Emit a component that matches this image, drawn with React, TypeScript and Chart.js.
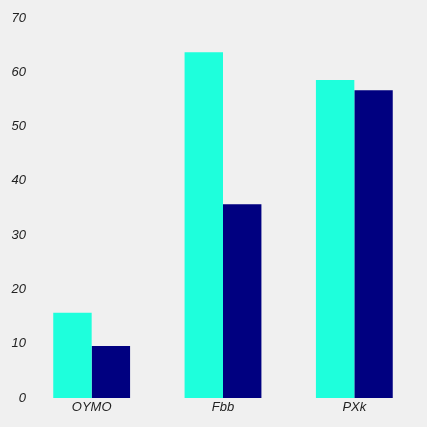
import React, { useEffect, useRef } from 'react';
import Chart from 'chart.js/auto';

const categories = ['OYMO', 'Fbb', 'PXk'];
const seriesA = [15.7, 63.7, 58.6];
const seriesB = [9.6, 35.7, 56.7];
const yTicks = [0, 10, 20, 30, 40, 50, 60, 70];

const App: React.FC = () => {
  const canvasRef = useRef<HTMLCanvasElement>(null);

  useEffect(() => {
    document.body.style.margin = '0';
    if (!canvasRef.current) return;
    const chart = new Chart(canvasRef.current, {
      type: 'bar',
      data: {
        labels: categories,
        datasets: [
          { label: 'A', data: seriesA, backgroundColor: '#1effdc', borderWidth: 0 },
          { label: 'B', data: seriesB, backgroundColor: '#000080', borderWidth: 0 },
        ],
      },
      options: {
        animation: false,
        responsive: false,
        maintainAspectRatio: false,
        layout: { padding: { left: 2, right: 7, top: 18, bottom: 9 } },
        plugins: { legend: { display: false }, tooltip: { enabled: false } },
        datasets: { bar: { categoryPercentage: 0.585, barPercentage: 1 } },
        scales: {
          x: {
            grid: { display: false, drawTicks: false },
            border: { display: false },
            afterFit: (axis: any) => {
              axis.height = 20;
            },
            ticks: {
              color: '#222',
              padding: 2,
              font: { family: 'Liberation Sans, Arial, sans-serif', size: 13, style: 'italic' },
            },
          },
          y: {
            min: 0,
            max: 70,
            grid: { display: false, drawTicks: false },
            border: { display: false },
            afterBuildTicks: (axis: any) => {
              axis.ticks = yTicks.map(v => ({ value: v }));
            },
            afterFit: (axis: any) => {
              axis.width = 24;
            },
            ticks: {
              color: '#222',
              padding: 0,
              font: { family: 'Liberation Sans, Arial, sans-serif', size: 13, style: 'italic' },
            },
          },
        },
      },
    });
    return () => chart.destroy();
  }, []);

  return (
    <div style={{ width: 427, height: 427, background: '#f0f0f0' }}>
      <canvas ref={canvasRef} width={427} height={427} style={{ width: 427, height: 427 }} />
    </div>
  );
};

export default App;
